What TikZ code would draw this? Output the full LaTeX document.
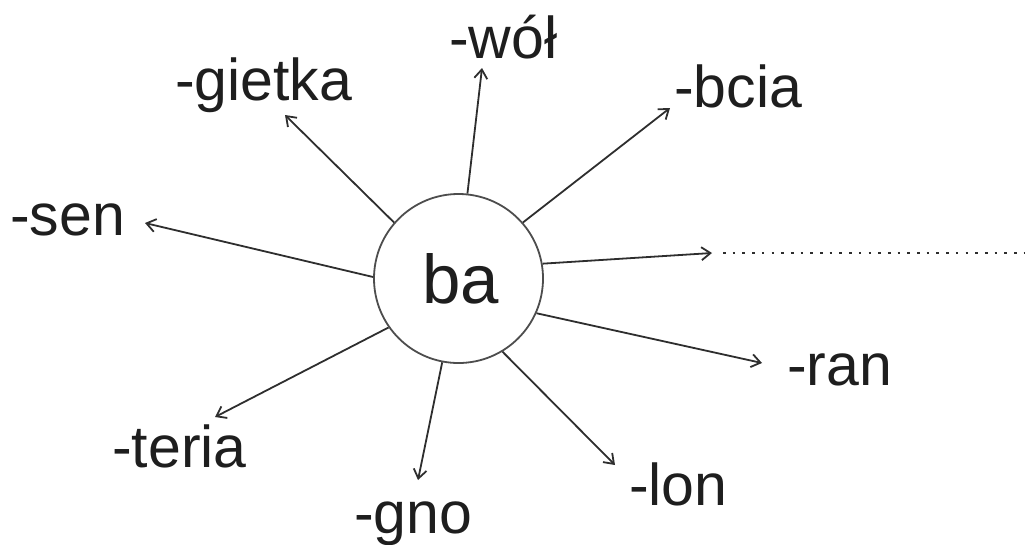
\documentclass[tikz,border=0pt]{standalone}
\usepackage{fontspec}
\setmainfont{Liberation Sans}
\usetikzlibrary{arrows.meta}
\definecolor{ink}{HTML}{1E1E1E}
\definecolor{lin}{HTML}{2E2E2E}
\tikzset{
  lbl/.style={anchor=base west, inner sep=0pt, text=ink, font=\fontsize{59}{70}\selectfont},
  arr/.style={draw=lin, line width=1.8pt, -{Straight Barb[length=9pt,width=13pt,line width=1.8pt]}},
  hub/.style={circle, draw=lin!85, line width=1.8pt, minimum size=169pt, inner sep=0pt, text=ink, font=\fontsize{69}{80}\selectfont}
}
\begin{document}
\begin{tikzpicture}[x=1pt,y=-1pt]
\useasboundingbox (0,0) rectangle (1027,544);
\node[hub] (c) at (458.5,278.5) {\raisebox{-3pt}{\hspace{5pt}ba}};
% tips
\coordinate (twol) at (482,68);
\coordinate (tgie) at (285,115);
\coordinate (tbci) at (670,108);
\coordinate (tsen) at (145,223);
\coordinate (trig) at (712,253);
\coordinate (tran) at (762,363);
\coordinate (tlon) at (615,465);
\coordinate (tgno) at (418,480);
\coordinate (tter) at (215,417);
\coordinate (dstart) at (723,253);
\coordinate (dend) at (1024,253);
% labels
\node[lbl] (wol) at (449,58) {-wół};
\node[lbl] (gie) at (175,100) {-gietka};
\node[lbl] (bci) at (674,107) {-bcia};
\node[lbl] (sen) at (10,235) {-sen};
\node[lbl] (ran) at (787,385) {-ran};
\node[lbl] (lon) at (629,505) {-lon};
\node[lbl] (ter) at (112,467) {-teria};
\node[lbl] (gno) at (354,533) {-gno};
% arrows
\draw[arr] (c.84.3) -- (twol);
\draw[arr] (c.139.7) -- (tgie);
\draw[arr] (c.41.2) -- (tbci);
\draw[arr] (c.179) -- (tsen);
\draw[arr] (c.10.4) -- (trig);
\draw[arr] (c.-24.1) -- (tran);
\draw[arr] (c.-59.8) -- (tlon);
\draw[arr] (c.-101) -- (tgno);
\draw[arr] (c.-145.3) -- (tter);
\draw[lin, line width=2.6pt, dash pattern=on 2.6pt off 7.1pt] (dstart) -- (dend);
\end{tikzpicture}
\end{document}
